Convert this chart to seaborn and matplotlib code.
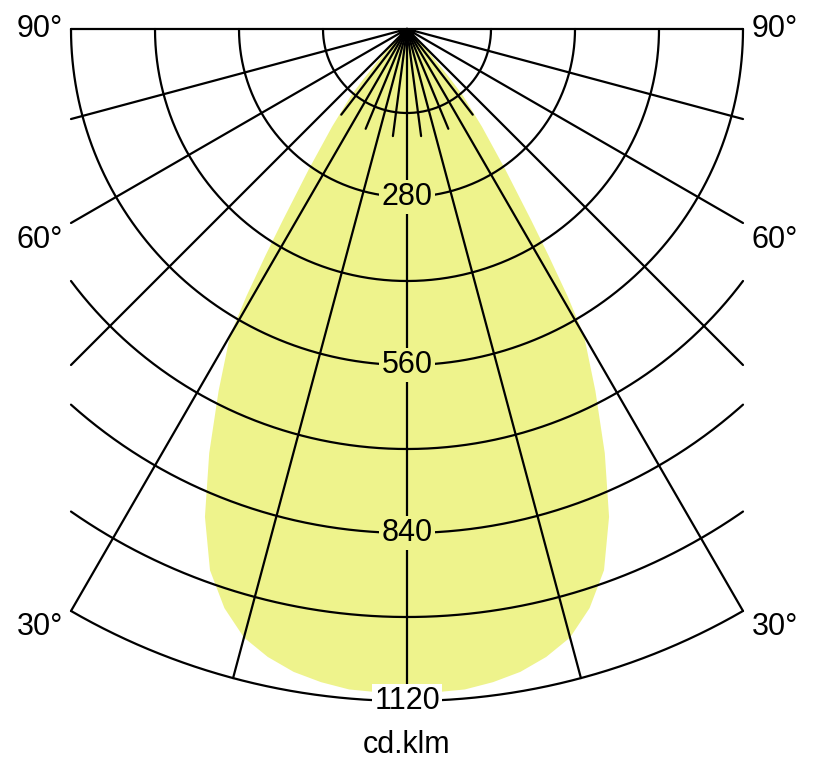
import numpy as np
import pandas as pd
import matplotlib
matplotlib.use("Agg")
import matplotlib.pyplot as plt
import seaborn as sns
from matplotlib.patches import Wedge

# light distribution, angle from nadir (deg) -> cd/klm
gamma = [0, 5, 7.5, 10, 12.5, 15, 17.5, 20, 22.5, 25, 27.5, 30, 31, 32, 33,
         35, 37.5, 40, 41, 42, 44, 47, 55, 70, 90]
intensity = [1110, 1105, 1098, 1088, 1072, 1050, 1012, 960, 880, 780, 680, 590,
             520, 445, 380, 285, 205, 145, 110, 75, 40, 20, 8, 3, 0]

rings = [140, 280, 420, 560, 700, 840, 980, 1120]
ring_labels = [280, 560, 840, 1120]
angle_labels = ['90°', '60°', '30°']
angle_label_y = [0, -352, -997]

R_MAX = 1120
HALF_W = 560
PX = 0.6  # px per cd/klm
FILL = '#eef38c'

sns.set_theme(style="white")
plt.rcParams['font.family'] = ['Liberation Sans', 'DejaVu Sans']
plt.rcParams['text.color'] = 'black'

fig = plt.figure(figsize=(8.13, 7.72), dpi=100)
ax = fig.add_axes([0, 0, 1, 1])
ax.set_xlim(-407 / PX, 406 / PX)
ax.set_ylim(-743 / PX, 29 / PX)
ax.axis('off')

# yellow curve, mirrored
df = pd.DataFrame({'gamma': gamma, 'cd': intensity})
left = df.assign(gamma=-df['gamma']).iloc[::-1]
full = pd.concat([left, df.iloc[1:]], ignore_index=True)
th = np.radians(full['gamma'])
ax.fill(full['cd'] * np.sin(th), -full['cd'] * np.cos(th),
        color=FILL, lw=0, zorder=1)

lw = 1.6
# rings, clipped at +-HALF_W
for r in rings:
    a = np.arcsin(min(1.0, HALF_W / r))
    t = np.linspace(-a, a, 400)
    ax.plot(r * np.sin(t), -r * np.cos(t), color='black', lw=lw, zorder=2)

# radial lines every 15 deg
for g in range(-90, 91, 15):
    t = np.radians(g)
    r = R_MAX if abs(g) <= 30 else HALF_W / abs(np.sin(t))
    ax.plot([0, r * np.sin(t)], [0, -r * np.cos(t)], color='black', lw=lw, zorder=2)

# short lines in between near the centre
for g in [-37.5, -22.5, -7.5, 7.5, 22.5, 37.5]:
    t = np.radians(g)
    r = 180
    ax.plot([0, r * np.sin(t)], [0, -r * np.cos(t)], color='black', lw=lw, zorder=2)

ax.add_patch(Wedge((0, 0), 14, 180, 360, color='black', zorder=3))

# ring labels
for v in ring_labels:
    fc = 'white' if v == R_MAX else FILL
    ax.text(0, -v, str(v), ha='center', va='center', fontsize=22, zorder=4,
            bbox=dict(boxstyle='square,pad=0.08', fc=fc, ec='none'))

# angle labels on both sides
for lab, y in zip(angle_labels, angle_label_y):
    ax.text(-612, y, lab, ha='center', va='center', fontsize=22)
    ax.text(613, y, lab, ha='center', va='center', fontsize=22)

ax.text(0, -1193, 'cd.klm', ha='center', va='center', fontsize=22)

fig.savefig('out.png', dpi=100)
